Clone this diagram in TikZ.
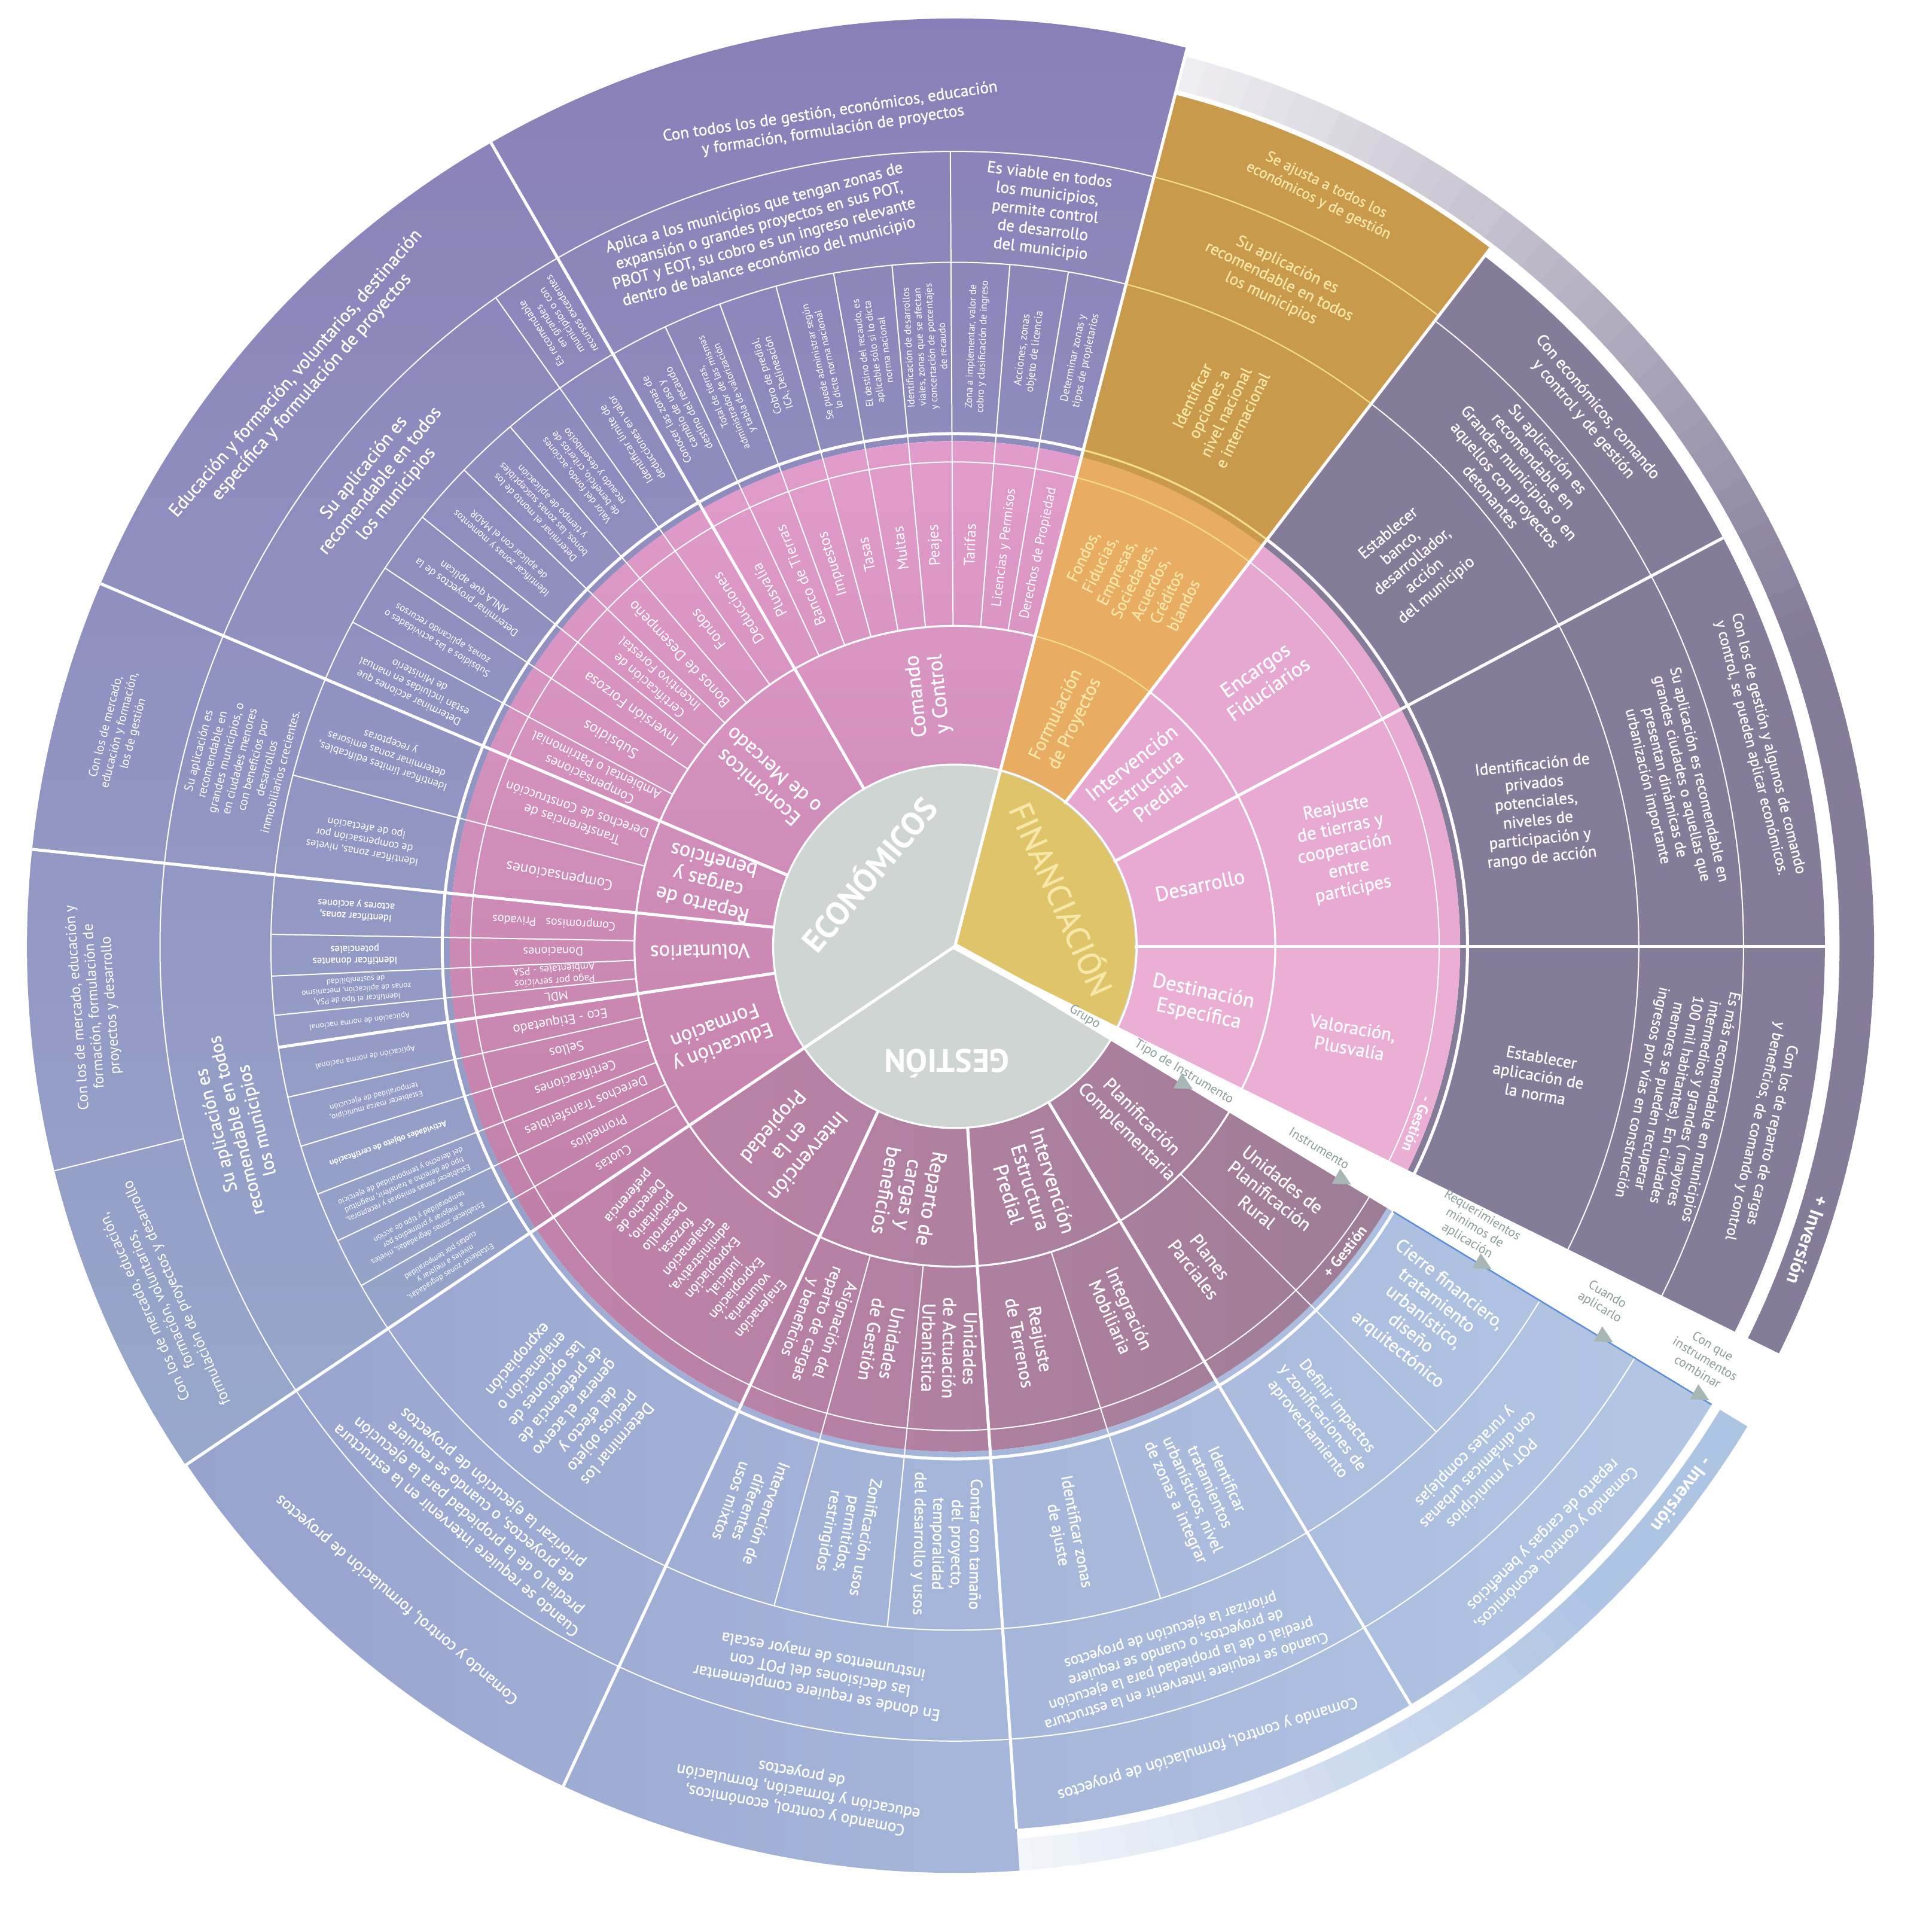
\documentclass[tikz,border=0pt]{standalone}
\usepackage{fontspec}
\setmainfont{PT Sans}
\newfontfamily\semib{PT Sans}[FakeBold=1]
\definecolor{disc}{HTML}{CFD5D2}
\definecolor{finY}{HTML}{E0C46A}
\definecolor{finT}{HTML}{F7E7A8}
\definecolor{pTop}{HTML}{E39DCD}
\definecolor{pBot}{HTML}{C07FA8}
\definecolor{gL}{HTML}{C282AB}
\definecolor{gR}{HTML}{9C7D95}
\definecolor{fOr}{HTML}{E8AC62}
\definecolor{fIEP}{HTML}{E6A7D1}
\definecolor{fDes}{HTML}{E8AAD3}
\definecolor{fDst}{HTML}{EBAED5}
\definecolor{oTop}{HTML}{897EB7}
\definecolor{oBot}{HTML}{98A8CC}
\definecolor{gold}{HTML}{C99A4B}
\definecolor{darkP}{HTML}{857C9A}
\definecolor{bL}{HTML}{97A2CE}
\definecolor{bR}{HTML}{B4C8E5}
\definecolor{bandB}{HTML}{AEC4E3}
\definecolor{gapT}{HTML}{8A9E9B}
\definecolor{gapA}{HTML}{A8B7B5}
\definecolor{bline}{HTML}{5E8FD6}
\definecolor{paleY}{HTML}{F2DC8C}
\newcommand\sect[5]{\fill[#5] (#3:#1) arc[start angle=#3,end angle=#4,radius=#1] -- (#4:#2) arc[start angle=#4,end angle=#3,radius=#2] -- cycle;}
\newcommand\wrad[4]{\draw[#4] (#1:#2) -- (#1:#3);}
\newcommand\warc[4]{\draw[#4] (#2:#1) arc[start angle=#2,end angle=#3,radius=#1];}
\newcommand\tx[5][]{\node[lab,#1,rotate=#4] at (#2:#3) {#5};}
\begin{document}
\begin{tikzpicture}[x=0.02cm,y=0.02cm,
  lab/.style={text=white,align=center,inner sep=0pt},
  fa/.style={font=\fontsize{3.7}{4.4}\selectfont},
  fb/.style={font=\fontsize{4.6}{5.3}\selectfont},
  Fb/.style={font=\semib\fontsize{4.6}{5.3}\selectfont},
  fbb/.style={font=\fontsize{5}{5.8}\selectfont},
  fc/.style={font=\fontsize{4.8}{5.6}\selectfont},
  fd/.style={font=\fontsize{5.6}{6.5}\selectfont},
  fe/.style={font=\fontsize{6.3}{7.3}\selectfont},
  Fe/.style={font=\semib\fontsize{6.3}{7.3}\selectfont},
  ff/.style={font=\fontsize{7}{8.1}\selectfont},
  Ff/.style={font=\semib\fontsize{7}{8.1}\selectfont},
  Fg/.style={font=\semib\fontsize{7.5}{8.6}\selectfont},
  Fh/.style={font=\semib\fontsize{8.5}{9.6}\selectfont},
  Fi/.style={font=\semib\fontsize{9.5}{10.6}\selectfont},
  fj/.style={font=\fontsize{15}{17}\selectfont\bfseries},
  fbold/.style={font=\fontsize{9}{10}\selectfont\bfseries},
  gl/.style={text=gapT,align=center,inner sep=0pt,font=\fontsize{6}{6.8}\selectfont},
  wTk/.style={white,line width=1.4pt},
  wMd/.style={white,line width=0.9pt},
  wTn/.style={white,line width=0.55pt},
  yTn/.style={paleY,line width=0.6pt},
  yMd/.style={paleY,line width=0.9pt}]
\useasboundingbox (-775,-800) rectangle (793,768);

% ---------- bands (+ / - Inversion)
\foreach \i in {0,...,67} {
  \pgfmathsetmacro\aa{-26.3+\i*1.5}
  \pgfmathsetmacro\ab{min(\aa+1.7,75.5)}
  \pgfmathtruncatemacro\pc{\aa<20 ? 100 : max(6,100-(\aa-20)*1.6)}
  \fill[darkP!\pc!white] (\aa:718) arc[start angle=\aa,end angle=\ab,radius=718] -- (\ab:746) arc[start angle=\ab,end angle=\aa,radius=746] -- cycle;
}
\foreach \i in {0,...,38} {
  \pgfmathsetmacro\aa{-31.2-\i*1.5}
  \pgfmathsetmacro\ab{\aa-1.7}
  \pgfmathtruncatemacro\pc{\aa>-45 ? 100 : max(6,100-(-45-\aa)*2.1)}
  \fill[bandB!\pc!white] (\aa:726) arc[start angle=\aa,end angle=\ab,radius=726] -- (\ab:752) arc[start angle=\ab,end angle=\aa,radius=752] -- cycle;
}

% ---------- outer rings
\shade[top color=oTop,bottom color=oBot] (75.5:410) arc[start angle=75.5,end angle=214,radius=410] -- (214:753) arc[start angle=214,end angle=75.5,radius=753] -- cycle;
\sect{410}{714}{52.5}{75.5}{gold}
\sect{410}{706}{-30}{52.5}{darkP}
\shade[left color=bL,right color=bR] (214:410) arc[start angle=214,end angle=333,radius=410] -- (333:718) arc[start angle=333,end angle=274,radius=718] -- (274:752) arc[start angle=274,end angle=214,radius=752] -- cycle;

% ---------- inner rings
\shade[top color=pTop,bottom color=pBot] (75.5:148) arc[start angle=75.5,end angle=214,radius=148] -- (214:410) arc[start angle=214,end angle=75.5,radius=410] -- cycle;
\shade[left color=gL,right color=gR] (214:148) arc[start angle=214,end angle=333,radius=148] -- (333:410) arc[start angle=333,end angle=214,radius=410] -- cycle;
\sect{146}{410}{52.5}{75.5}{fOr}
\sect{146}{410}{28}{52.5}{fIEP}
\sect{146}{410}{0}{28}{fDes}
\sect{146}{410}{-30}{0}{fDst}

% ---------- centre
\fill[disc] (0,0) circle[radius=148];
\fill[finY] (0,0) -- (-30:146) arc[start angle=-30,end angle=75.5,radius=146] -- cycle;

% ---------- arcs
\warc{147.5}{-30}{333}{wMd}
\warc{260}{75.5}{333}{wMd}
\warc{260}{-30}{52.5}{wMd}
\warc{260}{52.5}{75.5}{yTn}
\warc{393}{75.5}{333}{wTn}
\warc{393}{-30}{52.5}{wTn}
\warc{393}{52.5}{75.5}{yTn}
\warc{416}{75.5}{333}{wTk}
\warc{416}{-30}{52.5}{wTk}
\warc{416}{52.5}{75.5}{yMd}
\warc{555}{75.5}{333}{wTn}
\warc{555}{-30}{52.5}{wTn}
\warc{555}{52.5}{75.5}{yTn}
\warc{645}{75.5}{333}{wTn}
\warc{640}{-30}{52.5}{wTn}
\warc{645}{52.5}{75.5}{yTn}

% ---------- radial lines
\wrad{75.5}{0}{753}{wTk}
\wrad{214}{0}{753}{wTk}
\foreach \a in {120,157,174} {\wrad{\a}{148}{753}{wTk}}
\wrad{188.5}{148}{555}{wTk}
\wrad{245}{148}{752}{wTk}
\foreach \a in {274,301} {\wrad{\a}{148}{718}{wTk}}
\wrad{52.5}{146}{714}{wTk}
\foreach \a in {28,0} {\wrad{\a}{146}{706}{wTk}}
\foreach \a in {80.44,85.39,90.33,95.28,100.22,105.17,110.11,115.06,125.29,130.57,135.86,141.14,146.43,151.71,165.5,179,182.5,185.8,192.75,197,201.25,205.5,209.75,254.67,264.33,287.5,314.75} {\wrad{\a}{260}{555}{wTn}}
\wrad{90.33}{555}{645}{wTn}
\wrad{125.29}{555}{645}{wTn}
\wrad{194}{645}{753}{wTn}

% ---------- gap
\fill[white] (0,0) -- (-26.3:800) -- (-31.2:800) -- cycle;
\draw[white,line width=3pt] (0,0) -- (-28.75:800);
\draw[bline,line width=0.7pt] (-31.2:416) -- (-31.2:718);
\begin{scope}[rotate=-29]
\foreach \r in {217,367,500,615,706} {\fill[gapA] ({\r+8},{-0.036*\r}) -- ({\r-6},{-0.036*\r+7}) -- ({\r-6},{-0.036*\r-7}) -- cycle;}
\end{scope}
\node[gl,rotate=-31] (g1) at (-28.6:120) {Grupo};
\node[gl,rotate=-31] (g2) at (-28.8:212) {Tipo de Instrumento};
\node[gl,rotate=-31] (g3) at (-29:338) {Instrumento};
\node[gl,rotate=-31] (g4) at (-28.5:480) {Requerimientos\\mínimos de\\aplicación};
\node[gl,rotate=-31] (g5) at (-28.7:600) {Cuando\\aplicarlo};
\node[gl,rotate=-31] (g6) at (-28.8:695) {Con que\\instrumentos\\combinar};

% ---------- centre labels
\tx[fj]{140}{92}{50}{ECONÓMICOS}
\tx[text=finT,font=\semib\fontsize{15}{17}\selectfont]{24}{96}{-66}{FINANCIACIÓN}
\tx[fj]{266}{95}{180}{GESTIÓN}

% ---------- ring 2
\tx[Fi]{96}{205}{96}{Comando\\y Control}
\tx[Fi]{138.5}{205}{138.5}{Económicos\\o de Mercado}
\tx[Fi]{165.5}{207}{165.5}{Reparto de\\cargas y\\beneficios}
\tx[Fi]{181.25}{207}{181.25}{Voluntarios}
\tx[Fi]{201}{205}{201}{Educación y\\Formación}
\tx[Fi]{229.5}{207}{229.5}{Intervención\\en la\\Propiedad}
\tx[Fi]{259.5}{205}{259.5}{Reparto de\\cargas y\\beneficios}
\tx[Fi]{287.5}{205}{287.5}{Intervención\\Estructura\\Predial}
\tx[Fh]{315}{205}{315}{Planificación\\Complementaria}
\tx[Fh,text=finT]{64}{205}{64}{Formulación\\de Proyectos}
\tx[Fi]{41}{205}{38}{Intervención\\Estructura\\Predial}
\tx[Fi]{14}{205}{12}{Desarrollo}
\tx[Fi]{-13}{205}{-12}{Destinación\\Específica}

% ---------- ring 3 economicos
\tx[ff]{117.53}{326}{117.53}{Plusvalía}
\tx[ff]{112.58}{326}{112.58}{Banco de Tierras}
\tx[ff]{107.64}{326}{107.64}{Impuestos}
\tx[ff]{102.69}{326}{102.69}{Tasas}
\tx[ff]{97.75}{326}{97.75}{Multas}
\tx[ff]{92.81}{326}{92.81}{Peajes}
\tx[ff]{87.86}{326}{87.86}{Tarifas}
\tx[fe]{82.92}{326}{82.92}{Licencias y Permisos}
\tx[fe]{77.97}{326}{77.97}{Derechos de Propiedad}
\tx[ff]{122.64}{326}{122.64}{Deducciones}
\tx[ff]{127.93}{326}{127.93}{Fondos}
\tx[ff]{133.21}{326}{133.21}{Bonos de Desempeño}
\tx[fe]{138.5}{326}{138.5}{Certificación de\\Incentivo Forestal}
\tx[ff]{143.79}{326}{143.79}{Inversión Forzosa}
\tx[ff]{149.07}{326}{149.07}{Subsidios}
\tx[fe]{154.36}{326}{154.36}{Compensaciones\\Ambiental o Patrimonial}
\tx[fe]{161.25}{326}{161.25}{Transferencias de\\Derechos de Construcción}
\tx[ff]{169.75}{326}{169.75}{Compensaciones}
\tx[fd]{176.5}{326}{176.5}{Compromisos\ \ \ Privados}
\tx[fd]{180.75}{326}{180.75}{Donaciones}
\tx[fc]{184.15}{326}{184.15}{Pago por servicios\\Ambientales - PSA}
\tx[fd]{187.15}{326}{187.15}{MDL}
\tx[fe]{190.63}{326}{190.63}{Eco - Etiquetado}
\tx[fe]{194.88}{326}{194.88}{Sellos}
\tx[fe]{199.13}{326}{199.13}{Certificaciones}
\tx[fe]{203.38}{326}{203.38}{Derechos Transferibles}
\tx[fe]{207.63}{326}{207.63}{Promedios}
\tx[fe]{211.88}{326}{211.88}{Cuotas}

% ---------- ring 3 gestion / financiacion
\tx[Fe]{229.5}{326}{229.5}{Enajenación\\voluntaria,\\Expropiación\\judicial,\\Expropiación\\administrativa,\\Enajenación\\forzosa,\\Desarrollo\\prioritario,\\Derecho de\\preferencia}
\tx[Fg]{249.83}{326}{249.83}{Asignación del\\reparto de cargas\\y beneficios}
\tx[Fh]{259.5}{326}{259.5}{Unidades\\de Gestión}
\tx[Fh]{269.17}{326}{269.17}{Unidades\\de Actuación\\Urbanística}
\tx[Fh]{280.75}{326}{280.75}{Reajuste\\de Terrenos}
\tx[Fh]{294.25}{326}{294.25}{Integración\\Mobiliaria}
\tx[Fh]{307.9}{326}{307.9}{Planes\\Parciales}
\tx[Fh]{321.6}{326}{321.6}{Unidades de\\Planificación\\Rural}
\tx[Fg,text=finT]{64}{330}{64}{Fondos,\\Fiducias,\\Empresas,\\Sociedades,\\Acuerdos,\\Créditos\\blandos}
\tx[Fi]{41}{330}{35}{Encargos\\Fiduciarios}
\tx[Fh]{14}{326}{12}{Reajuste\\de tierras y\\cooperación\\entre\\partícipes}
\tx[Fh]{-13}{330}{-10}{Valoración,\\Plusvalía}
\node[lab,font=\fontsize{7}{8}\selectfont\bfseries,rotate=-111] (mg) at (-21:402) {- Gestión};
\node[lab,font=\fontsize{7}{8}\selectfont\bfseries,rotate=52] (pg) at (322:402) {+ Gestión};

% ---------- ring 4 economicos
\tx[fbb]{117.53}{487}{117.53}{Conocer las zonas de\\cambio de uso y\\destino del recaudo}
\tx[fb]{112.58}{487}{112.58}{Total de tierras,\\administrador de las mismas\\y tabla de valorización}
\tx[fbb]{107.64}{487}{107.64}{Cobro de predial,\\ICA, Delineación}
\tx[fb]{102.69}{487}{102.69}{Se puede administrar según\\lo dicte norma nacional}
\tx[fb]{97.75}{487}{97.75}{El destino del recaudo, es\\aplicable sólo si lo dicta\\norma nacional}
\tx[fb]{92.81}{487}{92.81}{Identificación de desarrollos\\viales, zonas que se afectan\\y concertación de porcentajes\\de recaudo}
\tx[fb]{87.86}{487}{87.86}{Zona a implementar, valor de\\cobro y clasificación de ingreso}
\tx[fbb]{82.92}{487}{82.92}{Acciones, zonas\\objeto de licencia}
\tx[fbb]{77.97}{487}{77.97}{Determinar zonas y\\tipos de propietarios}
\tx[fbb]{122.64}{487}{122.64}{Identificar límite de\\deducciones en valor}
\tx[fb]{127.93}{487}{127.93}{Valor del fondo, acciones\\de beneficio, criterios de\\recaudo y desembolso}
\tx[fb]{133.21}{487}{133.21}{Determinar el monto de los\\bonos, las zonas susceptibles\\y tiempo de aplicación}
\tx[fb]{138.5}{487}{138.5}{Identificar zonas y momentos\\de aplicar con el MADR}
\tx[fbb]{143.79}{487}{143.79}{Determinar proyectos de la\\ANLA que aplican}
\tx[fb]{149.07}{487}{149.07}{Subsidios a las actividades o\\zonas, aplicando recursos}
\tx[fbb]{154.36}{487}{154.36}{Determinar acciones que\\están incluidas en manual\\de Ministerio}
\tx[fbb]{161.25}{487}{161.25}{Identificar límites edificables,\\determinar zonas emisoras\\y receptoras}
\tx[fbb]{169.75}{487}{169.75}{Identificar zonas, niveles\\de compensación por\\ipo de afectación}
\tx[Fb]{176.5}{487}{176.5}{Identificar zonas,\\actores y acciones}
\tx[Fb]{180.75}{487}{180.75}{Identificar donantes\\potenciales}
\tx[fa]{184.15}{487}{184.15}{Identificar el tipo de PSA,\\zonas de aplicación, mecanismo\\de sostenibilidad}
\tx[fa]{187.15}{487}{187.15}{Aplicación de norma nacional}
\tx[fa]{190.63}{487}{190.63}{Aplicación de norma nacional}
\tx[fa]{194.88}{487}{194.88}{Establecer marca municipio,\\temporalidad de ejecución}
\node[lab,font=\fontsize{3.9}{4.6}\selectfont\bfseries,rotate=199.13] (aoc) at (199.13:487) {Actividades objeto de certificación};
\tx[fa]{203.38}{487}{203.38}{Establecer zonas emisoras y receptoras,\\tipo de derecho a transferir, magnitud\\del derecho y temporalidad de ejercicio}
\tx[fa]{207.63}{487}{207.63}{Establecer zonas degradadas, niveles\\a mejorar y promedios por\\temporalidad y tipo de acción}
\tx[fa]{211.88}{487}{211.88}{Establecer zonas degradadas,\\niveles a mejorar y\\cuotas por temporalidad}

% ---------- ring 5 / 6 economicos
\tx[Fg]{105.2}{598}{15.2}{Aplica a los municipios que tengan zonas de\\expansión o grandes proyectos en sus POT,\\PBOT y EOT, su cobro es un ingreso relevante\\dentro de balance económico del municipio}
\tx[Fg]{83}{600}{-7}{Es viable en todos\\los municipios,\\permite control\\de desarrollo\\del municipio}
\tx[fc]{122.6}{600}{122.6}{Es recomendable\\en grandes\\municipios o con\\recursos excedentes}
\tx[Fh]{141}{600}{51}{Su aplicación es\\recomendable en todos\\los municipios}
\tx[fd]{165.5}{600}{75.5}{Su aplicación es\\recomendable en\\grandes municipios, o\\en ciudades menores\\con beneficios por\\desarrollos\\inmobiliarios crecientes.}
\tx[Fh]{194}{600}{104}{Su aplicación es\\recomendable en todos\\los municipios}
\tx[Fg]{98.5}{677}{8.5}{Con todos los de gestión, económicos, educación\\y formación, formulación de proyectos}
\tx[Fh]{139}{700}{49}{Educación y formación, voluntarios, destinación\\específica y formulación de proyectos}
\tx[fd]{165.5}{700}{75.5}{Con los de mercado,\\educación y formación,\\los de gestión}
\tx[font=\fontsize{6.8}{7.8}\selectfont]{184}{700}{94}{Con los de mercado, educación y\\formación, formulación de\\proyectos y desarrollo}
\tx[ff]{204}{705}{114}{Con los de mercado, educación,\\formación, voluntarios,\\formulación de proyectos y desarrollo}

% ---------- gold
\tx[Fg,text=finT]{64}{486}{64}{Identificar\\opciones a\\nivel nacional\\e internacional}
\tx[Fg,text=finT]{64}{600}{-26}{Su aplicación es\\recomendable en todos\\los municipios}
\tx[Ff,text=finT]{64}{680}{-26}{Se ajusta a todos los\\económicos y de gestión}

% ---------- financiacion dark
\tx[Fg]{40}{485}{40}{Establecer\\banco,\\desarrollador,\\acción\\del municipio}
\tx[Fg]{13}{485}{6}{Identificación de\\privados\\potenciales,\\niveles de\\participación y\\rango de acción}
\tx[Fg]{-12.5}{485}{-10}{Establecer\\aplicación de\\la norma}
\tx[Fg]{40}{598}{-50}{Su aplicación es\\recomendable en\\Grandes municipios o en\\aquellos con proyectos\\detonantes}
\tx[Ff]{13}{598}{-77}{Su aplicación es recomendable en\\grandes ciudades o aquellas que\\presentan dinámicas de\\urbanización importante}
\tx[Ff]{-12}{598}{-102}{Es más recomendable en municipios\\intermedios y grandes ( mayores\\100 mil habitantes). En ciudades\\menores se pueden recuperar\\ingresos por vías en construcción}
\tx[Fg]{40}{673}{-50}{Con económicos, comando\\y control y de gestión}
\tx[Ff]{14}{673}{-76}{Con los de gestión y algunos de comando\\y control, se pueden aplicar económicos.}
\tx[Ff]{-13}{673}{-103}{Con los de reparto de cargas\\y beneficios, de comando y control}
\tx[fbold]{-19}{732}{-109}{+ Inversión}

% ---------- gestion ring 4
\tx[Fg]{229.5}{485}{229.5}{Determinar los\\predios objeto\\del efecto y\\generar el acervo\\de preferencia de\\las opciones de\\enajenación o\\expropiación}
\tx[Fg]{249.83}{485}{249.83}{Intervención de\\diferentes\\usos mixtos}
\tx[Fg]{259.5}{485}{259.5}{Zonificación usos\\permitidos,\\restringidos}
\tx[Fg]{269.17}{485}{269.17}{Contar con tamaño\\del proyecto,\\temporalidad\\del desarrollo y usos}
\tx[Fg]{280.75}{485}{280.75}{Identificar zonas\\de ajuste}
\tx[Fg]{294.25}{485}{294.25}{Identificar\\tratamientos\\urbanísticos, nivel\\de zonas a integrar}
\tx[Fg]{307.9}{485}{307.9}{Definir impactos\\y zonificaciones de\\aprovechamiento}
\tx[Fh]{321.6}{485}{321.6}{Cierre financiero,\\tratamiento\\urbanístico,\\diseño\\arquitectónico}

% ---------- gestion ring 5 / 6
\tx[Fg]{229.5}{600}{139.5}{Cuando se requiere intervenir en la estructura\\predial o de la propiedad para la ejecución\\de proyectos, o cuando se requiere\\priorizar la ejecución de proyectos}
\tx[Fg]{259.5}{600}{169.5}{En donde se requiere complementar\\las decisiones del POT con\\instrumentos de mayor escala}
\tx[Ff]{287.5}{603}{197.5}{Cuando se requiere intervenir en la estructura\\predial o de la propiedad para la ejecución\\de proyectos, o cuando se requiere\\priorizar la ejecución de proyectos}
\tx[Fg]{315}{600}{225}{POT y municipios\\con dinámicas urbanas\\y rurales complejas}
\tx[Fg]{229.5}{697}{139.5}{Comando y control, formulación de proyectos}
\tx[Fg]{259.5}{697}{169.5}{Comando y control, económicos,\\educación y formación, formulación\\de proyectos}
\tx[Fg]{287.5}{682}{197.5}{Comando y control, formulación de proyectos}
\tx[Fg]{315}{682}{225}{Comando y control, económicos,\\reparto de cargas y beneficios}
\tx[fbold]{-37}{739}{-127}{- Inversión}
\end{tikzpicture}
\end{document}
